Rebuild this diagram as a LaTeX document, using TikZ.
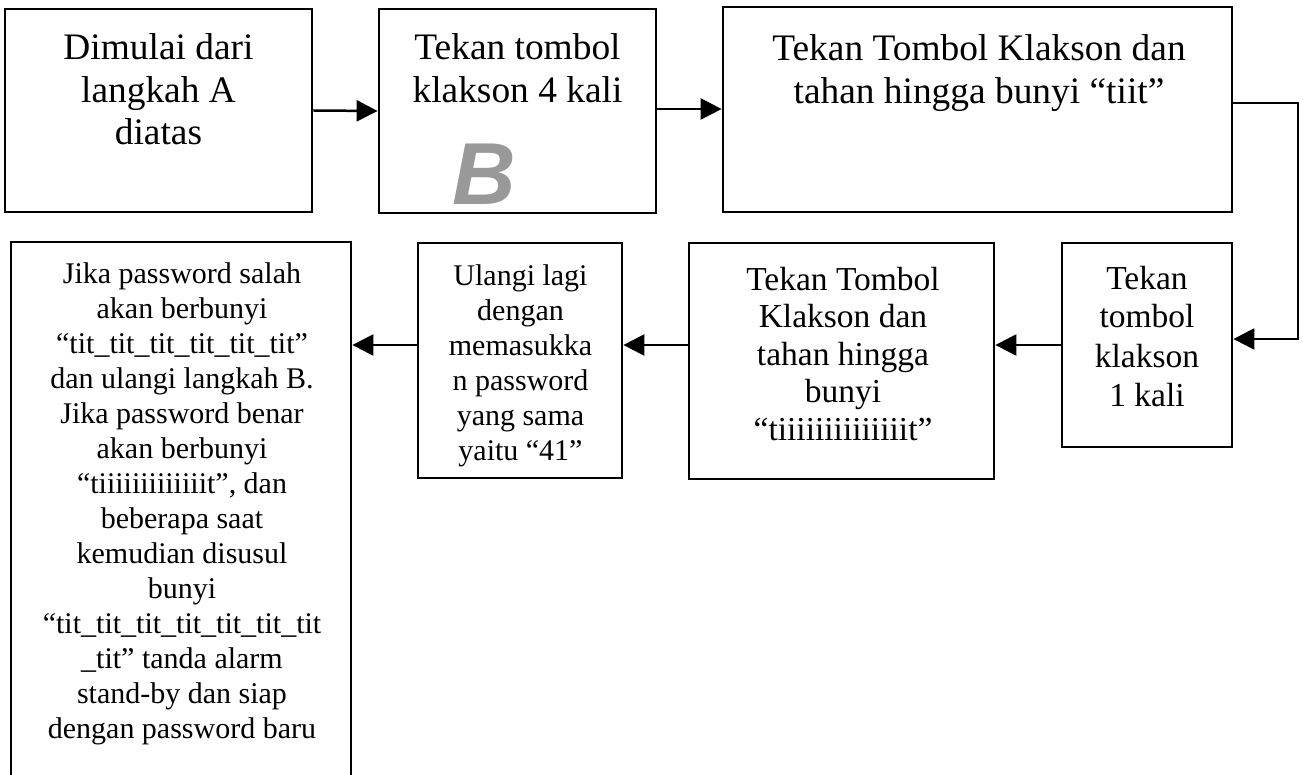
\documentclass[tikz,border=0pt]{standalone}
\usepackage{fontspec}
\setmainfont{Liberation Serif}
\newfontfamily\bsans{Liberation Sans}
\usetikzlibrary{arrows.meta}
\definecolor{bgray}{gray}{0.6}
\begin{document}
\begin{tikzpicture}[x=1pt,y=-1pt,
  box/.style={draw, line width=2.8pt, inner sep=0pt, rectangle},
  arr/.style={line width=2.5pt, -{Triangle[length=21pt,width=21pt]}},
  ttop/.style={font=\fontsize{37.4}{42.5}\selectfont, align=center, anchor=base, inner sep=0pt},
  tmid/.style={font=\fontsize{33.5}{37.5}\selectfont, align=center, anchor=base, inner sep=0pt},
  tmidb/.style={font=\fontsize{33.5}{39}\selectfont, align=center, anchor=base, inner sep=0pt},
  tsmall/.style={font=\fontsize{30}{35}\selectfont, align=center, anchor=base, inner sep=0pt},
  bmark/.style={font=\bsans\bfseries\itshape\fontsize{88}{88}\selectfont, text=bgray, anchor=base, inner sep=0pt}]
\useasboundingbox (0,0) rectangle (1303,775);
\clip (0,0) rectangle (1303,775);
% boxes
\node[box, minimum width=307pt, minimum height=203pt] (b1) at (158.5,110.5) {};
\node[box, minimum width=277pt, minimum height=204pt] (b2) at (517.5,111) {};
\node[box, minimum width=509pt, minimum height=205pt] (b3) at (977.5,109.5) {};
\node[box, minimum width=170pt, minimum height=204pt] (b8) at (1147,345) {};
\node[box, minimum width=305pt, minimum height=236pt] (b7) at (841.5,361) {};
\node[box, minimum width=204pt, minimum height=235pt] (b6) at (520,360.5) {};
\node[box, minimum width=340pt, minimum height=600pt] (b5) at (181,542) {};
% texts (anchor = baseline of the last line)
\node[ttop] (t1) at (158.5,145) {Dimulai dari\\langkah A\\diatas};
\node[ttop] (t2) at (517.5,102.5) {Tekan tombol\\klakson 4 kali};
\node[bmark] (tb) at (484,205) {B};
\node[ttop] (t3) at (979,103.5) {Tekan Tombol Klakson dan\\tahan hingga bunyi “tiit”};
\node[tmidb] (t8) at (1147,406) {Tekan\\tombol\\klakson\\1 kali};
\node[tmid] (t7) at (843,440) {Tekan Tombol\\Klakson dan\\tahan hingga\\bunyi\\“tiiiiiiiiiiiiiit”};
\node[tsmall] (t6) at (520.5,460) {Ulangi lagi\\dengan\\memasukka\\n password\\yang sama\\yaitu “41”};
\node[tsmall] (t5) at (182,738) {Jika password salah\\akan berbunyi\\“tit\_tit\_tit\_tit\_tit\_tit”\\dan ulangi langkah B.\\Jika password benar\\akan berbunyi\\“tiiiiiiiiiiiiit”, dan\\beberapa saat\\kemudian disusul\\bunyi\\“tit\_tit\_tit\_tit\_tit\_tit\_tit\\\_tit” tanda alarm\\stand-by dan siap\\dengan password baru};
% connectors
\coordinate (k1) at (1298,200);
\draw[arr] (b1.east) -- (b2.west);
\draw[arr] ([yshift=2pt]b2.east) -- ([yshift=2pt]b2.east -| b3.west);
\draw[arr] ([yshift=6.5pt]b3.east) -- ([yshift=6.5pt]b3.east -| k1) -- ([yshift=6pt]b8.east -| k1) -- ([yshift=6pt]b8.east);
\draw[arr] (b8.west) -- (b8.west -| b7.east);
\draw[arr] (b8.west -| b7.west) -- (b8.west -| b6.east);
\draw[arr] (b8.west -| b6.west) -- (b8.west -| b5.east);
\end{tikzpicture}
\end{document}
